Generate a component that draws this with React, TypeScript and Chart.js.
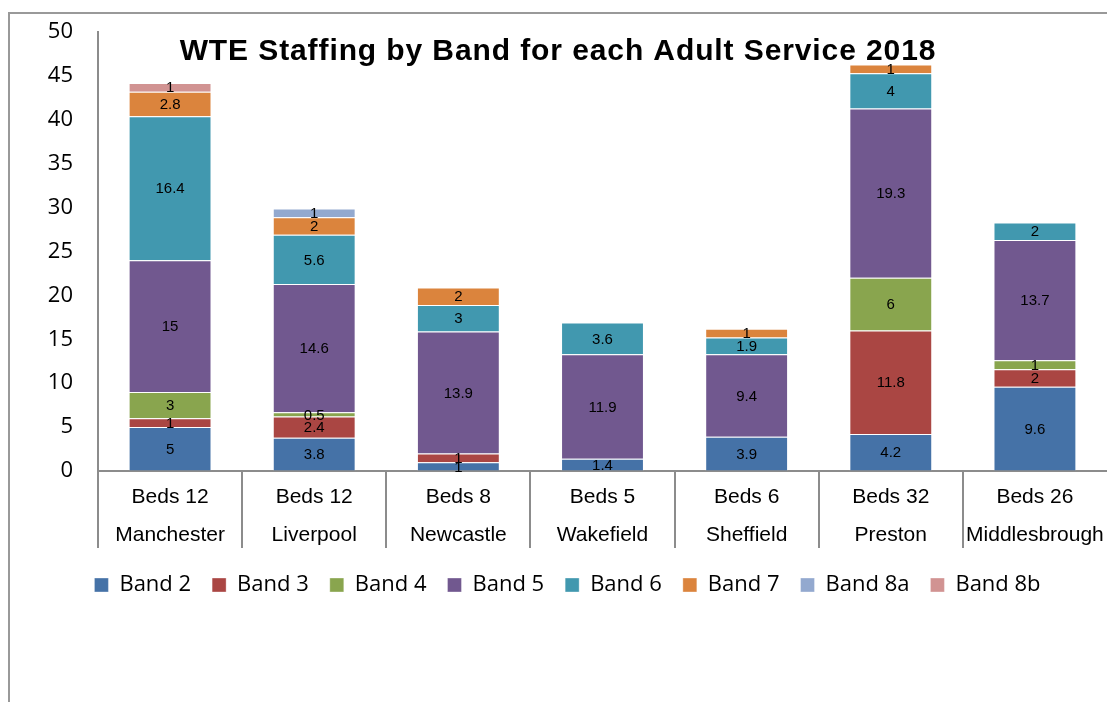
import React, { useEffect, useRef } from "react";
import { Chart, registerables } from "chart.js";

Chart.register(...registerables);

const chartTitle = "WTE Staffing by Band for each Adult Service 2018";
const beds = ["Beds 12", "Beds 12", "Beds 8", "Beds 5", "Beds 6", "Beds 32", "Beds 26"];
const services = ["Manchester", "Liverpool", "Newcastle", "Wakefield", "Sheffield", "Preston", "Middlesbrough"];

const band2 = [5, 3.8, 1, 1.4, 3.9, 4.2, 9.6];
const band3 = [1, 2.4, 1, null, null, 11.8, 2];
const band4 = [3, 0.5, null, null, null, 6, 1];
const band5 = [15, 14.6, 13.9, 11.9, 9.4, 19.3, 13.7];
const band6 = [16.4, 5.6, 3, 3.6, 1.9, 4, 2];
const band7 = [2.8, 2, 2, null, 1, 1, null];
const band8a = [null, 1, null, null, null, null, null];
const band8b = [1, null, null, null, null, null, null];

const seriesNames = ["Band 2", "Band 3", "Band 4", "Band 5", "Band 6", "Band 7", "Band 8a", "Band 8b"];
const seriesData = [band2, band3, band4, band5, band6, band7, band8a, band8b];
const seriesColors = ["#4572A7", "#AA4643", "#89A54E", "#71588F", "#4198AF", "#DB843D", "#93A9CF", "#D19392"];

const yTicks = { min: 0, max: 50, step: 5 };

const framePlugin = {
  id: "frame",
  beforeDraw(chart: any) {
    const ctx = chart.ctx;
    ctx.save();
    ctx.strokeStyle = "#999999";
    ctx.lineWidth = 2;
    ctx.beginPath();
    ctx.moveTo(9, chart.height);
    ctx.lineTo(9, 13);
    ctx.lineTo(chart.width, 13);
    ctx.stroke();
    ctx.restore();
  },
};

const dividerPlugin = {
  id: "dividers",
  afterDraw(chart: any) {
    const xs = chart.scales.x;
    const ctx = chart.ctx;
    const n = xs.getLabels().length;
    const w = (xs.right - xs.left) / n;
    ctx.save();
    ctx.strokeStyle = "#8c8c8c";
    ctx.lineWidth = 2;
    for (let i = 0; i < n; i++) {
      const x = Math.round(xs.left + i * w);
      ctx.beginPath();
      ctx.moveTo(x, xs.top);
      ctx.lineTo(x, xs.top + 77);
      ctx.stroke();
    }
    ctx.restore();
  },
};

const valueLabelPlugin = {
  id: "valueLabels",
  afterDatasetsDraw(chart: any) {
    const ctx = chart.ctx;
    ctx.save();
    ctx.font = "15px 'Liberation Sans', Arial, sans-serif";
    ctx.fillStyle = "#000000";
    ctx.textAlign = "center";
    ctx.textBaseline = "middle";
    chart.data.datasets.forEach((ds: any, di: number) => {
      const meta = chart.getDatasetMeta(di);
      meta.data.forEach((el: any, i: number) => {
        const v = ds.data[i];
        if (v === null || v === undefined) return;
        const { x, y, base } = el.getProps(["x", "y", "base"], true);
        ctx.fillText(String(v), x, (y + base) / 2 + 1);
      });
    });
    ctx.restore();
  },
};

const titlePlugin = {
  id: "customTitle",
  afterDraw(chart: any) {
    const ctx = chart.ctx;
    ctx.save();
    ctx.font = "bold 30px 'Liberation Sans', Arial, sans-serif";
    try {
      (ctx as any).letterSpacing = "0.9px";
    } catch (e) {}
    ctx.fillStyle = "#000000";
    ctx.textAlign = "center";
    ctx.textBaseline = "middle";
    ctx.fillText(chartTitle, 558, 52);
    ctx.restore();
  },
};

export default function App() {
  const ref = useRef<HTMLCanvasElement | null>(null);

  useEffect(() => {
    if (!ref.current) return;
    const chart = new Chart(ref.current, {
      type: "bar",
      data: {
        labels: beds.map((b, i) => [b, services[i]]),
        datasets: seriesNames.map((name, i) => ({
          label: name,
          data: seriesData[i],
          backgroundColor: seriesColors[i],
          borderColor: "rgba(255,255,255,0.35)",
          borderWidth: 1,
          barPercentage: 0.575,
          categoryPercentage: 1,
        })),
      },
      options: {
        responsive: false,
        animation: false,
        devicePixelRatio: 1,
        layout: { padding: { left: 28, right: 0, top: 32, bottom: 96 } },
        plugins: {
          title: { display: false },
          tooltip: { enabled: false },
          legend: {
            position: "bottom",
            labels: {
              boxWidth: 14,
              boxHeight: 14,
              padding: 21,
              color: "#000000",
              font: { family: "'Open Sans', 'Noto Sans', sans-serif", size: 22 },
            },
          },
        },
        scales: {
          x: {
            stacked: true,
            grid: {
              display: true,
              drawOnChartArea: false,
              drawTicks: true,
              tickLength: 7,
              color: "rgba(0,0,0,0)",
            },
            border: { display: true, color: "#8c8c8c", width: 2 },
            ticks: {
              color: "#000000",
              padding: 0,
              maxRotation: 0,
              autoSkip: false,
              font: { family: "'Liberation Sans', Arial, sans-serif", size: 21, lineHeight: "38px" },
            },
            afterFit: (s: any) => {
              s.height = 82;
            },
          },
          y: {
            stacked: true,
            min: yTicks.min,
            max: yTicks.max,
            grid: {
              display: true,
              drawOnChartArea: false,
              drawTicks: true,
              tickLength: 25,
              color: "rgba(0,0,0,0)",
            },
            border: { display: true, color: "#8c8c8c", width: 2 },
            ticks: {
              stepSize: yTicks.step,
              color: "#000000",
              padding: 0,
              font: { family: "'Open Sans', 'Noto Sans', sans-serif", size: 22 },
            },
            afterFit: (s: any) => {
              s.width = 70;
            },
          },
        },
      },
      plugins: [framePlugin, dividerPlugin, valueLabelPlugin, titlePlugin],
    });
    return () => chart.destroy();
  }, []);

  return (
    <div style={{ position: "fixed", left: 0, top: 0, width: 1107, height: 702, background: "#ffffff" }}>
      <canvas ref={ref} width={1107} height={702} style={{ width: 1107, height: 702 }} />
    </div>
  );
}
